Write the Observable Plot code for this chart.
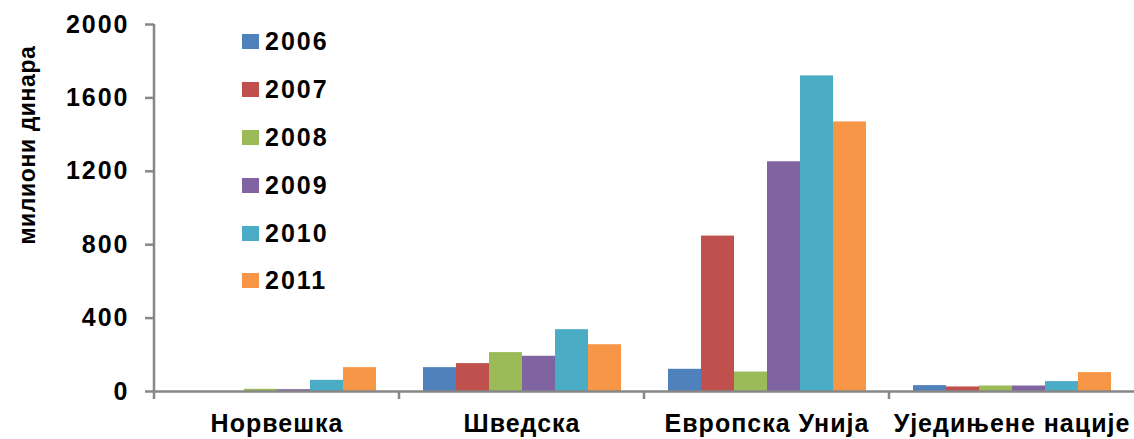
<!DOCTYPE html>
<html>
<head>
<meta charset="utf-8">
<script src="https://cdn.jsdelivr.net/npm/d3@7"></script>
<script src="https://cdn.jsdelivr.net/npm/@observablehq/plot@0.6"></script>
<style>
  html, body { margin: 0; padding: 0; background: #fff; }
  #wrap { position: relative; width: 1134px; height: 439px; font-family: "Liberation Sans", Arial, sans-serif; font-weight: bold; }
  #wrap svg text { font-family: "Liberation Sans", Arial, sans-serif; font-weight: bold; fill: #000; }
  .yt text { letter-spacing: 2px; }
  .fxl text { letter-spacing: 1px; }
  #ylab { position: absolute; left: 27px; top: 145px; transform: translate(-50%, -50%) rotate(-90deg); white-space: nowrap; font-size: 23px; letter-spacing: 0.6px; color: #000; }
  #legend { position: absolute; left: 242px; top: 18px; }
  .li { display: flex; align-items: center; height: 47.8px; font-size: 25px; letter-spacing: 2px; color: #000; }
  .sw { width: 17px; height: 15px; margin-right: 6px; }
</style>
</head>
<body>
<div id="wrap"></div>
<script>
const categories = ["Норвешка", "Шведска", "Европска Унија", "Уједињене нације"];
const years = ["2006", "2007", "2008", "2009", "2010", "2011"];
const colors = ["#4F81BD", "#C0504D", "#9BBB59", "#8064A2", "#4BACC6", "#F79646"];
const values = {
  "Норвешка":         [0, 0, 12, 10, 61, 130],
  "Шведска":          [130, 152, 212, 192, 337, 255],
  "Европска Унија":   [121, 847, 106, 1252, 1720, 1469],
  "Уједињене нације": [32, 25, 30, 30, 54, 103]
};
const yTicks = [0, 400, 800, 1200, 1600, 2000];
const yLabel = "милиони динара";

const data = categories.flatMap(c => years.map((y, i) => ({cat: c, year: y, value: values[c][i]})));
const axisGray = "#878787";

function edgeTick(index, scales, vals, dim) {
  const g = d3.create("svg:g");
  const x = dim.marginLeft;
  g.append("line")
    .attr("x1", x).attr("x2", x)
    .attr("y1", dim.height - dim.marginBottom)
    .attr("y2", dim.height - dim.marginBottom + 8)
    .attr("stroke", axisGray).attr("stroke-width", 2.5);
  return g.node();
}
function yAxisLine(index, scales, vals, dim) {
  if (!index.length) return null;
  const g = d3.create("svg:g");
  const x = dim.marginLeft;
  g.append("line")
    .attr("x1", x).attr("x2", x)
    .attr("y1", dim.marginTop)
    .attr("y2", dim.height - dim.marginBottom)
    .attr("stroke", axisGray).attr("stroke-width", 2.5);
  return g.node();
}

const chart = Plot.plot({
  width: 1134,
  height: 439,
  marginLeft: 153,
  marginRight: 0,
  marginTop: 24,
  marginBottom: 48,
  fx: {domain: categories, padding: 0, label: null},
  x: {domain: years, paddingInner: 0, paddingOuter: 0.67, axis: null},
  y: {domain: [0, 2000], label: null},
  color: {domain: years, range: colors},
  marks: [
    Plot.barY(data, {fx: "cat", x: "year", y: "value", fill: "year", inset: 0}),
    Plot.ruleY([0], {stroke: axisGray, strokeWidth: 2.5}),
    Plot.ruleY([0], {render: edgeTick}),
    Plot.ruleY([{cat: categories[0], v: 0}], {fx: "cat", y: "v", render: yAxisLine}),
    Plot.axisY({ticks: yTicks, tickSize: 9, tickPadding: 16, fontSize: 25, stroke: axisGray, strokeWidth: 2.5, strokeOpacity: 1, className: "yt", tickFormat: d => String(d)}),
    Plot.axisFx({anchor: "bottom", tickSize: 0, tickPadding: 23, fontSize: 25, className: "fxl", label: null})
  ]
});

const wrap = document.getElementById("wrap");
wrap.appendChild(chart);

const yl = document.createElement("div");
yl.id = "ylab";
yl.textContent = yLabel;
wrap.appendChild(yl);

const leg = document.createElement("div");
leg.id = "legend";
years.forEach((y, i) => {
  const row = document.createElement("div");
  row.className = "li";
  const sw = document.createElement("span");
  sw.className = "sw";
  sw.style.background = colors[i];
  const t = document.createElement("span");
  t.textContent = y;
  row.appendChild(sw); row.appendChild(t);
  leg.appendChild(row);
});
wrap.appendChild(leg);
</script>
</body>
</html>
